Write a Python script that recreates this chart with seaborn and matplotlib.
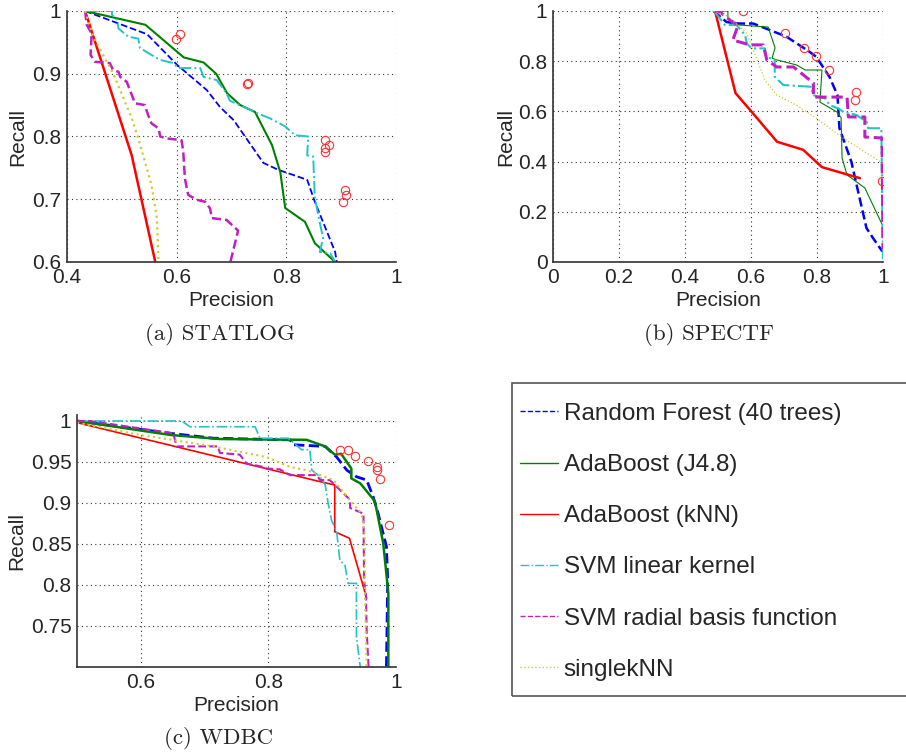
import matplotlib
matplotlib.use("Agg")
import matplotlib.pyplot as plt
from matplotlib.lines import Line2D
from matplotlib.patches import Rectangle
import seaborn as sns

# ---- data (precision / recall) ----
methods = ["Random Forest (40 trees)", "AdaBoost (J4.8)", "AdaBoost (kNN)",
           "SVM linear kernel", "SVM radial basis function", "singlekNN"]

# (a) STATLOG
statlog_rf_p = [0.433, 0.546, 0.601, 0.655, 0.679, 0.704, 0.758, 0.785, 0.838, 0.852, 0.889, 0.892]
statlog_rf_r = [1.0, 0.963, 0.914, 0.874, 0.847, 0.826, 0.758, 0.747, 0.731, 0.696, 0.616, 0.6]
statlog_j48_p = [0.433, 0.543, 0.613, 0.649, 0.672, 0.692, 0.716, 0.743, 0.774, 0.789, 0.798, 0.834, 0.852, 0.889]
statlog_j48_r = [1.0, 0.978, 0.926, 0.918, 0.900, 0.869, 0.850, 0.839, 0.786, 0.743, 0.686, 0.664, 0.630, 0.6]
statlog_knn_p = [0.433, 0.518, 0.561]
statlog_knn_r = [1.0, 0.770, 0.6]
statlog_lin_p = [0.433, 0.482, 0.482, 0.491, 0.494, 0.512, 0.530, 0.533, 0.554, 0.570, 0.594, 0.603, 0.643,
                 0.649, 0.673, 0.691, 0.697, 0.728, 0.747, 0.770, 0.798, 0.816, 0.840, 0.838, 0.849, 0.852,
                 0.861, 0.867, 0.861, 0.880, 0.889]
statlog_lin_r = [1.0, 1.0, 0.994, 0.986, 0.972, 0.959, 0.956, 0.941, 0.930, 0.922, 0.917, 0.909, 0.909,
                 0.895, 0.890, 0.869, 0.857, 0.845, 0.837, 0.829, 0.816, 0.802, 0.800, 0.770, 0.768, 0.702,
                 0.663, 0.638, 0.616, 0.614, 0.600]
statlog_rbf_p = [0.433, 0.436, 0.445, 0.443, 0.451, 0.478, 0.484, 0.494, 0.497, 0.509, 0.524, 0.542, 0.548,
                 0.554, 0.567, 0.570, 0.582, 0.609, 0.612, 0.615, 0.621, 0.637, 0.652, 0.661, 0.664, 0.691,
                 0.712, 0.698]
statlog_rbf_r = [1.0, 0.978, 0.964, 0.930, 0.919, 0.917, 0.906, 0.903, 0.895, 0.887, 0.853, 0.850, 0.834,
                 0.821, 0.813, 0.800, 0.797, 0.794, 0.776, 0.733, 0.707, 0.699, 0.696, 0.685, 0.670, 0.667,
                 0.650, 0.600]
statlog_single_p = [0.433, 0.448, 0.466, 0.484, 0.503, 0.518, 0.530, 0.542, 0.554, 0.564, 0.567]
statlog_single_r = [1.0, 0.959, 0.930, 0.901, 0.861, 0.829, 0.797, 0.760, 0.723, 0.670, 0.6]
statlog_pts_p = [0.598, 0.606, 0.728, 0.731, 0.871, 0.877, 0.871, 0.871, 0.907, 0.909, 0.904]
statlog_pts_r = [0.955, 0.963, 0.884, 0.885, 0.794, 0.786, 0.781, 0.776, 0.715, 0.707, 0.696]

# (b) SPECTF
spectf_rf_p = [0.486, 0.526, 0.561, 0.607, 0.657, 0.707, 0.778, 0.798, 0.838, 0.862, 0.868, 0.904, 0.929,
               0.950, 0.970, 0.998]
spectf_rf_r = [1.0, 0.956, 0.950, 0.950, 0.924, 0.898, 0.837, 0.817, 0.737, 0.665, 0.533, 0.400, 0.255,
               0.135, 0.095, 0.042]
spectf_j48_p = [0.486, 0.530, 0.530, 0.546, 0.652, 0.673, 0.664, 0.673, 0.738, 0.764, 0.815, 0.809, 0.860,
                0.873, 0.876, 0.891, 0.945, 1.0]
spectf_j48_r = [1.0, 1.0, 0.973, 0.946, 0.936, 0.853, 0.813, 0.807, 0.785, 0.765, 0.765, 0.637, 0.598,
                0.575, 0.414, 0.347, 0.295, 0.142]
spectf_knn_p = [0.491, 0.553, 0.597, 0.679, 0.758, 0.815, 0.930]
spectf_knn_r = [1.0, 0.673, 0.606, 0.479, 0.447, 0.378, 0.334]
spectf_lin_p = [0.486, 0.496, 0.521, 0.556, 0.582, 0.587, 0.602, 0.642, 0.647, 0.672, 0.672, 0.698, 0.783,
                0.788, 0.824, 0.839, 0.864, 0.879, 0.919, 0.950, 0.955, 0.995, 1.0]
spectf_lin_r = [1.0, 0.987, 0.944, 0.944, 0.904, 0.871, 0.851, 0.851, 0.818, 0.805, 0.738, 0.705, 0.698,
                0.665, 0.652, 0.625, 0.612, 0.599, 0.586, 0.559, 0.533, 0.533, 0.0]
spectf_rbf_p = [0.486, 0.506, 0.536, 0.561, 0.545, 0.597, 0.637, 0.648, 0.678, 0.729, 0.789, 0.789, 0.891,
                0.895, 0.945, 0.945, 0.997, 1.0]
spectf_rbf_r = [1.0, 0.996, 0.964, 0.944, 0.884, 0.865, 0.865, 0.805, 0.777, 0.777, 0.713, 0.657, 0.657,
                0.578, 0.578, 0.498, 0.494, 0.05]
spectf_single_p = [0.486, 0.530, 0.587, 0.617, 0.642, 0.678, 0.738, 0.799, 0.880, 0.991, 1.0]
spectf_single_r = [1.0, 0.980, 0.911, 0.811, 0.725, 0.665, 0.625, 0.572, 0.493, 0.400, 0.39]
spectf_pts_p = [0.575, 0.703, 0.760, 0.798, 0.836, 0.917, 0.914, 0.998]
spectf_pts_r = [1.0, 0.914, 0.854, 0.822, 0.765, 0.677, 0.645, 0.323]

# (c) WDBC
wdbc_rf_p = [0.5, 0.646, 0.714, 0.834, 0.839, 0.889, 0.907, 0.923, 0.938, 0.954, 0.964, 0.972, 0.985,
             0.987, 0.985]
wdbc_rf_r = [1.0, 0.985, 0.979, 0.977, 0.971, 0.969, 0.956, 0.940, 0.932, 0.928, 0.908, 0.887, 0.847,
             0.806, 0.70]
wdbc_j48_p = [0.5, 0.646, 0.724, 0.860, 0.889, 0.904, 0.914, 0.930, 0.930, 0.944, 0.967, 0.980, 0.988, 0.988]
wdbc_j48_r = [1.0, 0.983, 0.978, 0.977, 0.969, 0.959, 0.960, 0.942, 0.930, 0.924, 0.902, 0.851, 0.790, 0.70]
wdbc_knn_p = [0.5, 0.881, 0.904, 0.904, 0.927, 0.954]
wdbc_knn_r = [0.998, 0.926, 0.922, 0.865, 0.857, 0.784]
wdbc_lin_p = [0.5, 0.664, 0.677, 0.779, 0.787, 0.831, 0.852, 0.865, 0.868, 0.881, 0.889, 0.894, 0.899,
              0.907, 0.912, 0.920, 0.925, 0.938, 0.938, 0.944]
wdbc_lin_r = [1.0, 1.0, 0.993, 0.993, 0.979, 0.979, 0.965, 0.965, 0.940, 0.932, 0.922, 0.898, 0.879,
              0.865, 0.830, 0.824, 0.802, 0.802, 0.737, 0.70]
wdbc_rbf_p = [0.5, 0.520, 0.651, 0.656, 0.721, 0.724, 0.755, 0.766, 0.792, 0.797, 0.818, 0.834, 0.876,
              0.881, 0.896, 0.907, 0.917, 0.928, 0.928, 0.949, 0.950, 0.953, 0.954, 0.957]
wdbc_rbf_r = [1.0, 1.0, 0.985, 0.969, 0.969, 0.961, 0.959, 0.948, 0.944, 0.942, 0.941, 0.934, 0.934,
              0.928, 0.928, 0.920, 0.912, 0.904, 0.894, 0.887, 0.806, 0.786, 0.745, 0.70]
wdbc_single_p = [0.5, 0.599, 0.714, 0.797, 0.834, 0.860, 0.902, 0.925, 0.946, 0.951, 0.951, 0.954]
wdbc_single_r = [0.998, 0.983, 0.969, 0.956, 0.944, 0.940, 0.928, 0.906, 0.887, 0.863, 0.800, 0.70]
wdbc_pts_p = [0.912, 0.924, 0.936, 0.956, 0.970, 0.970, 0.975, 0.989]
wdbc_pts_r = [0.965, 0.965, 0.957, 0.951, 0.944, 0.940, 0.929, 0.873]

# ticks
statlog_xticks = [0.4, 0.6, 0.8, 1.0]
statlog_xlabels = ["0.4", "0.6", "0.8", "1"]
statlog_yticks = [0.6, 0.7, 0.8, 0.9, 1.0]
statlog_ylabels = ["0.6", "0.7", "0.8", "0.9", "1"]
spectf_ticks = [0, 0.2, 0.4, 0.6, 0.8, 1.0]
spectf_labels = ["0", "0.2", "0.4", "0.6", "0.8", "1"]
wdbc_xticks = [0.6, 0.8, 1.0]
wdbc_xlabels = ["0.6", "0.8", "1"]
wdbc_yticks = [0.75, 0.8, 0.85, 0.9, 0.95, 1.0]
wdbc_ylabels = ["0.75", "0.8", "0.85", "0.9", "0.95", "1"]

# ---- styles ----
colors = ["#0000ff", "#008000", "#ff0000", "#22c4c4", "#c020c0", "#cccc30"]
styles = ["--", "-", "-", "-.", "--", ":"]
widths = {
    "a": [1.3, 1.5, 1.8, 1.4, 1.8, 1.6],
    "b": [1.8, 0.8, 1.8, 1.5, 2.2, 0.9],
    "c": [2.0, 1.8, 1.2, 1.2, 1.5, 1.5],
}

sns.set_style("white")
plt.rcParams["font.family"] = ["Liberation Sans", "DejaVu Sans"]

W, H = 906, 754
fig = plt.figure(figsize=(W / 100, H / 100), dpi=100)


def box(left, top, right, bottom):
    return [left / W, 1 - bottom / H, (right - left) / W, (bottom - top) / H]


def draw_panel(ax, key, series, pts, xlim, ylim, xt, xl, yt, yl, ylab_x, xlab_y):
    for i, (p, r) in enumerate(series):
        sns.lineplot(x=p, y=r, sort=False, estimator=None, color=colors[i],
                     linestyle=styles[i], linewidth=widths[key][i], ax=ax)
    ax.plot(pts[0], pts[1], linestyle="none", marker="o", markersize=6,
            markerfacecolor="none", markeredgecolor="#ff3030", markeredgewidth=0.8)
    ax.set_xlim(*xlim)
    ax.set_ylim(*ylim)
    ax.set_xticks(xt, xl)
    ax.set_yticks(yt, yl)
    ax.grid(True, linestyle=(0, (1, 3)), color="#333333", linewidth=0.8)
    for s in ["top", "right"]:
        ax.spines[s].set_visible(False)
    for s in ["left", "bottom"]:
        ax.spines[s].set_color("#333333")
        ax.spines[s].set_linewidth(1.2)
    ax.tick_params(direction="in", length=3, labelsize=15, pad=4, color="#333333")
    ax.set_xlabel("Precision", fontsize=15)
    ax.set_ylabel("Recall", fontsize=15)
    ax.xaxis.set_label_coords(0.5, xlab_y)
    ax.yaxis.set_label_coords(ylab_x, 0.5)


ax_a = fig.add_axes(box(67, 11, 396, 262))
draw_panel(ax_a, "a",
           [(statlog_rf_p, statlog_rf_r), (statlog_j48_p, statlog_j48_r), (statlog_knn_p, statlog_knn_r),
            (statlog_lin_p, statlog_lin_r), (statlog_rbf_p, statlog_rbf_r), (statlog_single_p, statlog_single_r)],
           (statlog_pts_p, statlog_pts_r), (0.4, 1.0), (0.6, 1.0),
           statlog_xticks, statlog_xlabels, statlog_yticks, statlog_ylabels, -0.122, -0.117)

ax_b = fig.add_axes(box(553, 11, 883, 262))
draw_panel(ax_b, "b",
           [(spectf_rf_p, spectf_rf_r), (spectf_j48_p, spectf_j48_r), (spectf_knn_p, spectf_knn_r),
            (spectf_lin_p, spectf_lin_r), (spectf_rbf_p, spectf_rbf_r), (spectf_single_p, spectf_single_r)],
           (spectf_pts_p, spectf_pts_r), (0.0, 1.0), (0.0, 1.0),
           spectf_ticks, spectf_labels, spectf_ticks, spectf_labels, -0.114, -0.117)

ax_c = fig.add_axes(box(77, 415, 396, 667))
draw_panel(ax_c, "c",
           [(wdbc_rf_p, wdbc_rf_r), (wdbc_j48_p, wdbc_j48_r), (wdbc_knn_p, wdbc_knn_r),
            (wdbc_lin_p, wdbc_lin_r), (wdbc_rbf_p, wdbc_rbf_r), (wdbc_single_p, wdbc_single_r)],
           (wdbc_pts_p, wdbc_pts_r), (0.5, 1.0), (0.70, 1.0073),
           wdbc_xticks, wdbc_xlabels, wdbc_yticks, wdbc_ylabels, -0.158, -0.116)

# captions
fig.text(220 / W, 1 - 334 / H, "(a) STATLOG", ha="center", va="center", fontsize=16.5, family="cmr10")
fig.text(709 / W, 1 - 334 / H, "(b) SPECTF", ha="center", va="center", fontsize=16.5, family="cmr10")
fig.text(219 / W, 1 - 739 / H, "(c) WDBC", ha="center", va="center", fontsize=16.5, family="cmr10")

# legend
handles = [Line2D([], [], color=colors[i], linestyle=styles[i], linewidth=1.0) for i in range(len(methods))]
fig.legend(handles, methods, loc="upper left", bbox_to_anchor=(498 / W, 1 - 381 / H),
           frameon=False, fontsize=17.5, handlelength=1.55, handletextpad=0.25,
           labelspacing=1.2, borderpad=0.4)
fig.add_artist(Rectangle((512 / W, 1 - 696 / H), (930 - 512) / W, 313 / H, transform=fig.transFigure,
                         fill=False, edgecolor="#555555", linewidth=1.2, clip_on=False))

fig.savefig("out.png", dpi=100)
